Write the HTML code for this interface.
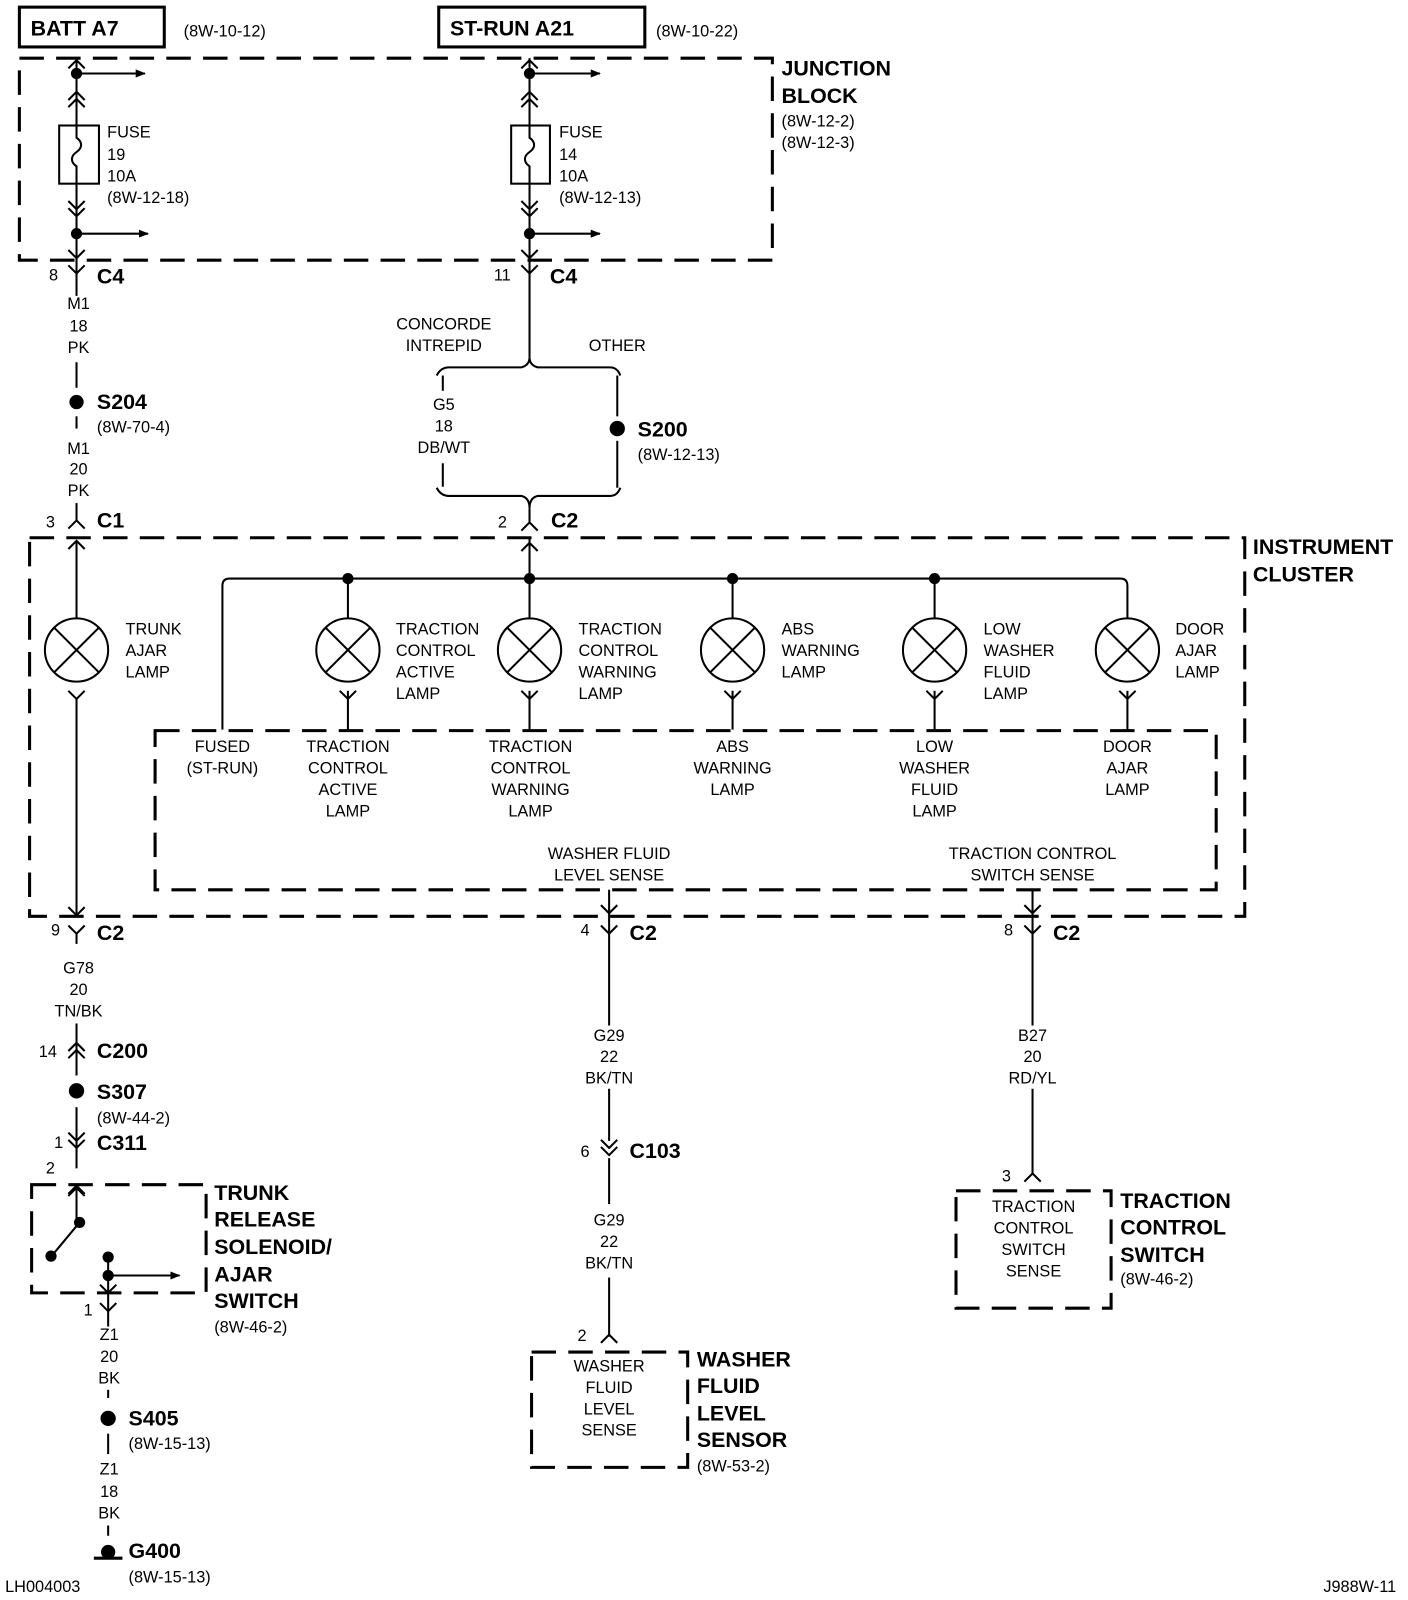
<!DOCTYPE html>
<html><head><meta charset="utf-8"><style>
html,body{margin:0;padding:0;background:#fff}
svg{display:block}
text{font-family:"Liberation Sans",sans-serif;font-size:16px;fill:#000}
.b{font-weight:bold;font-size:21px}
.c{text-anchor:middle}
</style></head><body>
<svg width="1408" height="1600" viewBox="0 0 1380 1568" preserveAspectRatio="none" xmlns="http://www.w3.org/2000/svg" stroke="#000" fill="none" stroke-width="2">
<defs>
<marker id="ar" markerWidth="10" markerHeight="8" refX="9" refY="4" orient="auto" markerUnits="userSpaceOnUse"><path d="M0,0 L10,4 L0,8 z" fill="#000" stroke="none"/></marker>
<g id="Y"><path d="M-8,-8 L0,0 L8,-8"/></g>
<g id="A"><path d="M-8,8 L0,0 L8,8"/></g>
<g id="lamp"><circle r="31"/><path d="M-22,-22 L22,22 M22,-22 L-22,22"/></g>
</defs>

<rect x="19" y="7" width="142" height="39" stroke-width="3"/>
<rect x="430" y="7" width="202" height="39" stroke-width="3"/>
<g stroke="none">
<text x="30" y="35" class="b">BATT A7</text>
<text x="180" y="36">(8W-10-12)</text>
<text x="441" y="35" class="b">ST-RUN A21</text>
<text x="643" y="36">(8W-10-22)</text>
<text x="766" y="74" class="b">JUNCTION</text>
<text x="766" y="101" class="b">BLOCK</text>
<text x="766" y="124">(8W-12-2)</text>
<text x="766" y="145">(8W-12-3)</text>
</g>
<rect x="19" y="57" width="738" height="198" stroke-dasharray="24,12" stroke-width="3"/>

<line x1="75" y1="57" x2="75" y2="290"/>
<use href="#A" x="75" y="59"/>
<circle cx="75" cy="72" r="4.5" fill="#000"/><line x1="75" y1="72" x2="142" y2="72" marker-end="url(#ar)"/>
<use href="#A" x="75" y="90"/><use href="#A" x="75" y="97"/>
<rect x="58" y="123" width="39" height="57" fill="#fff"/>
<path d="M75,123 v12 c6,4 6,10 0,14 c-6,4 -6,10 0,14 v17"/>
<use href="#Y" x="75" y="205"/><use href="#Y" x="75" y="212"/>
<circle cx="75" cy="229" r="4.5" fill="#000"/><line x1="75" y1="229" x2="145" y2="229" marker-end="url(#ar)"/>
<use href="#Y" x="75" y="253"/>
<use href="#Y" x="75" y="268"/>
<g stroke="none">
<text x="105" y="135">FUSE</text><text x="105" y="157">19</text><text x="105" y="178">10A</text><text x="105" y="199">(8W-12-18)</text>
<text x="48" y="275" font-size="14">8</text><text x="95" y="278" class="b">C4</text>
<text x="77" y="303" class="c">M1</text><text x="77" y="325" class="c">18</text><text x="77" y="346" class="c">PK</text>
</g>
<line x1="75" y1="355" x2="75" y2="380"/>
<circle cx="75" cy="394" r="6" fill="#000"/>
<line x1="75" y1="408" x2="75" y2="420"/>
<g stroke="none">
<text x="95" y="401" class="b">S204</text><text x="95" y="424">(8W-70-4)</text>
<text x="77" y="445" class="c">M1</text><text x="77" y="465" class="c">20</text><text x="77" y="486" class="c">PK</text>
<text x="45" y="517" font-size="14">3</text><text x="95" y="517" class="b">C1</text>
</g>
<line x1="75" y1="493" x2="75" y2="510"/>
<use href="#A" x="75" y="510"/>

<line x1="519" y1="57" x2="519" y2="350"/>
<use href="#A" x="519" y="59"/>
<circle cx="519" cy="72" r="4.5" fill="#000"/><line x1="519" y1="72" x2="588" y2="72" marker-end="url(#ar)"/>
<use href="#A" x="519" y="90"/><use href="#A" x="519" y="97"/>
<rect x="501" y="123" width="38" height="57" fill="#fff"/>
<path d="M519,123 v12 c6,4 6,10 0,14 c-6,4 -6,10 0,14 v17"/>
<use href="#Y" x="519" y="205"/><use href="#Y" x="519" y="212"/>
<circle cx="519" cy="229" r="4.5" fill="#000"/><line x1="519" y1="229" x2="588" y2="229" marker-end="url(#ar)"/>
<use href="#Y" x="519" y="253"/>
<use href="#Y" x="519" y="268"/>
<g stroke="none">
<text x="548" y="135">FUSE</text><text x="548" y="157">14</text><text x="548" y="178">10A</text><text x="548" y="199">(8W-12-13)</text>
<text x="484" y="275" font-size="14">11</text><text x="539" y="278" class="b">C4</text>
<text x="435" y="323" class="c">CONCORDE</text><text x="435" y="344" class="c">INTREPID</text>
<text x="605" y="344" class="c">OTHER</text>
<text x="435" y="402" class="c">G5</text><text x="435" y="423" class="c">18</text><text x="435" y="444" class="c">DB/WT</text>
<text x="625" y="428" class="b">S200</text><text x="625" y="451">(8W-12-13)</text>
<text x="488" y="517" font-size="14">2</text><text x="540" y="517" class="b">C2</text>
</g>
<path d="M428,368 Q432,360 440,360 L511,360 Q519,358 519,350 Q519,358 527,360 L598,360 Q605,360 608,368"/>
<line x1="434" y1="368" x2="434" y2="383"/>
<line x1="434" y1="454" x2="434" y2="477"/>
<line x1="605" y1="368" x2="605" y2="408"/>
<line x1="605" y1="432" x2="605" y2="478"/>
<circle cx="605" cy="420" r="6.5" fill="#000"/>
<path d="M428,478 Q432,486 440,486 L511,486 Q519,488 519,498 Q519,488 527,486 L598,486 Q605,486 608,478"/>
<line x1="519" y1="498" x2="519" y2="512"/>
<use href="#A" x="519" y="512"/>

<rect x="29" y="527" width="1191" height="371" stroke-dasharray="24,12" stroke-width="3"/>
<g stroke="none"><text x="1228" y="543" class="b">INSTRUMENT</text><text x="1228" y="570" class="b">CLUSTER</text></g>
<use href="#A" x="75" y="530"/>
<line x1="75" y1="530" x2="75" y2="606"/>
<use href="#lamp" x="75" y="637"/>
<use href="#Y" x="75" y="685"/>
<line x1="75" y1="685" x2="75" y2="898"/>
<use href="#Y" x="75" y="897"/>
<use href="#A" x="519" y="532"/>
<line x1="519" y1="527" x2="519" y2="606"/>
<path d="M218,715 L218,574 Q218,567 225,567 L1098,567 Q1105,567 1105,574 L1105,606"/>
<g fill="#000"><circle cx="341" cy="567" r="4.5"/><circle cx="519" cy="567" r="4.5"/><circle cx="718" cy="567" r="4.5"/><circle cx="916" cy="567" r="4.5"/></g>
<line x1="341" y1="567" x2="341" y2="606"/><line x1="718" y1="567" x2="718" y2="606"/><line x1="916" y1="567" x2="916" y2="606"/>
<use href="#lamp" x="341" y="637"/><use href="#lamp" x="519" y="637"/><use href="#lamp" x="718" y="637"/><use href="#lamp" x="916" y="637"/><use href="#lamp" x="1105" y="637"/>
<g>
<line x1="341" y1="677" x2="341" y2="715"/><use href="#Y" x="341" y="685"/>
<line x1="519" y1="677" x2="519" y2="715"/><use href="#Y" x="519" y="685"/>
<line x1="718" y1="677" x2="718" y2="715"/><use href="#Y" x="718" y="685"/>
<line x1="916" y1="677" x2="916" y2="715"/><use href="#Y" x="916" y="685"/>
<line x1="1105" y1="677" x2="1105" y2="715"/><use href="#Y" x="1105" y="685"/>
</g>
<rect x="152" y="716" width="1040" height="156" stroke-dasharray="24,12" stroke-width="3"/>
<g stroke="none">
<text x="123" y="622">TRUNK</text><text x="123" y="643">AJAR</text><text x="123" y="664">LAMP</text>
<text x="388" y="622">TRACTION</text><text x="388" y="643">CONTROL</text><text x="388" y="664">ACTIVE</text><text x="388" y="685">LAMP</text>
<text x="567" y="622">TRACTION</text><text x="567" y="643">CONTROL</text><text x="567" y="664">WARNING</text><text x="567" y="685">LAMP</text>
<text x="766" y="622">ABS</text><text x="766" y="643">WARNING</text><text x="766" y="664">LAMP</text>
<text x="964" y="622">LOW</text><text x="964" y="643">WASHER</text><text x="964" y="664">FLUID</text><text x="964" y="685">LAMP</text>
<text x="1152" y="622">DOOR</text><text x="1152" y="643">AJAR</text><text x="1152" y="664">LAMP</text>
<text x="218" y="737" class="c">FUSED</text><text x="218" y="758" class="c">(ST-RUN)</text>
<text x="341" y="737" class="c">TRACTION</text><text x="341" y="758" class="c">CONTROL</text><text x="341" y="779" class="c">ACTIVE</text><text x="341" y="800" class="c">LAMP</text>
<text x="520" y="737" class="c">TRACTION</text><text x="520" y="758" class="c">CONTROL</text><text x="520" y="779" class="c">WARNING</text><text x="520" y="800" class="c">LAMP</text>
<text x="718" y="737" class="c">ABS</text><text x="718" y="758" class="c">WARNING</text><text x="718" y="779" class="c">LAMP</text>
<text x="916" y="737" class="c">LOW</text><text x="916" y="758" class="c">WASHER</text><text x="916" y="779" class="c">FLUID</text><text x="916" y="800" class="c">LAMP</text>
<text x="1105" y="737" class="c">DOOR</text><text x="1105" y="758" class="c">AJAR</text><text x="1105" y="779" class="c">LAMP</text>
<text x="597" y="842" class="c">WASHER FLUID</text><text x="597" y="863" class="c">LEVEL SENSE</text>
<text x="1012" y="842" class="c">TRACTION CONTROL</text><text x="1012" y="863" class="c">SWITCH SENSE</text>
</g>
<line x1="597" y1="872" x2="597" y2="1118"/><use href="#Y" x="597" y="895"/>
<line x1="1012" y1="872" x2="1012" y2="1150"/><use href="#Y" x="1012" y="895"/>

<use href="#Y" x="75" y="915"/><use href="#Y" x="597" y="915"/><use href="#Y" x="1012" y="915"/>
<line x1="75" y1="915" x2="75" y2="925"/>
<g stroke="none">
<text x="50" y="917" font-size="14">9</text><text x="95" y="921" class="b">C2</text>
<text x="569" y="917" font-size="14">4</text><text x="617" y="921" class="b">C2</text>
<text x="984" y="917" font-size="14">8</text><text x="1032" y="921" class="b">C2</text>
<text x="77" y="954" class="c">G78</text><text x="77" y="975" class="c">20</text><text x="77" y="996" class="c">TN/BK</text>
</g>
<rect x="575" y="1005" width="45" height="62" fill="#fff" stroke="none"/>
<rect x="985" y="1005" width="55" height="62" fill="#fff" stroke="none"/>
<g stroke="none">
<text x="597" y="1020" class="c">G29</text><text x="597" y="1041" class="c">22</text><text x="597" y="1062" class="c">BK/TN</text>
<text x="1012" y="1020" class="c">B27</text><text x="1012" y="1041" class="c">20</text><text x="1012" y="1062" class="c">RD/YL</text>
</g>

<line x1="75" y1="1003" x2="75" y2="1054"/>
<use href="#A" x="75" y="1022"/><use href="#A" x="75" y="1029"/>
<circle cx="75" cy="1069" r="6.5" fill="#000"/>
<line x1="75" y1="1085" x2="75" y2="1145"/>
<use href="#Y" x="75" y="1118"/><use href="#Y" x="75" y="1125"/>
<use href="#A" x="75" y="1164"/>
<line x1="75" y1="1160" x2="75" y2="1198"/>
<g stroke="none">
<text x="38" y="1036" font-size="14">14</text><text x="95" y="1037" class="b">C200</text>
<text x="95" y="1077" class="b">S307</text><text x="95" y="1101">(8W-44-2)</text>
<text x="53" y="1125" font-size="14">1</text><text x="95" y="1127" class="b">C311</text>
<text x="45" y="1150" font-size="14">2</text>
<text x="210" y="1176" class="b">TRUNK</text><text x="210" y="1202" class="b">RELEASE</text><text x="210" y="1229" class="b">SOLENOID/</text><text x="210" y="1256" class="b">AJAR</text><text x="210" y="1282" class="b">SWITCH</text><text x="210" y="1306">(8W-46-2)</text>
</g>
<rect x="31" y="1161" width="171" height="106" stroke-dasharray="24,12" stroke-width="3"/>
<use href="#A" x="75" y="1162"/>
<circle cx="78" cy="1198" r="4.5" fill="#000"/>
<line x1="78" y1="1198" x2="53" y2="1228"/>
<circle cx="50" cy="1231" r="4.5" fill="#000"/>
<circle cx="106" cy="1232" r="4.5" fill="#000"/>
<line x1="106" y1="1232" x2="106" y2="1300"/>
<circle cx="106" cy="1250" r="4.5" fill="#000"/>
<line x1="106" y1="1250" x2="176" y2="1250" marker-end="url(#ar)"/>
<use href="#Y" x="106" y="1267"/>
<use href="#Y" x="106" y="1285"/>
<g stroke="none">
<text x="82" y="1289" font-size="14">1</text>
<text x="107" y="1313" class="c">Z1</text><text x="107" y="1335" class="c">20</text><text x="107" y="1356" class="c">BK</text>
<text x="126" y="1397" class="b">S405</text><text x="126" y="1420">(8W-15-13)</text>
<text x="107" y="1445" class="c">Z1</text><text x="107" y="1467" class="c">18</text><text x="107" y="1488" class="c">BK</text>
<text x="126" y="1527" class="b">G400</text><text x="126" y="1551">(8W-15-13)</text>
<text x="5" y="1560" font-size="15">LH004003</text>
<text x="1297" y="1560" font-size="15">J988W-11</text>
</g>
<line x1="106" y1="1362" x2="106" y2="1370"/>
<circle cx="106" cy="1390" r="6.5" fill="#000"/>
<line x1="106" y1="1405" x2="106" y2="1425"/>
<line x1="106" y1="1495" x2="106" y2="1505"/>
<circle cx="106" cy="1521" r="6" fill="#000"/>
<line x1="92" y1="1527" x2="120" y2="1527" stroke-width="3"/>

<use href="#Y" x="597" y="1125"/><use href="#Y" x="597" y="1132"/>
<line x1="597" y1="1135" x2="597" y2="1180"/>
<g stroke="none">
<text x="569" y="1134" font-size="14">6</text><text x="617" y="1135" class="b">C103</text>
<text x="597" y="1201" class="c">G29</text><text x="597" y="1222" class="c">22</text><text x="597" y="1243" class="c">BK/TN</text>
<text x="566" y="1314" font-size="14">2</text>
<text x="597" y="1344" class="c">WASHER</text><text x="597" y="1365" class="c">FLUID</text><text x="597" y="1386" class="c">LEVEL</text><text x="597" y="1407" class="c">SENSE</text>
<text x="683" y="1339" class="b">WASHER</text><text x="683" y="1365" class="b">FLUID</text><text x="683" y="1392" class="b">LEVEL</text><text x="683" y="1418" class="b">SENSOR</text><text x="683" y="1442">(8W-53-2)</text>
</g>
<line x1="597" y1="1252" x2="597" y2="1310"/>
<use href="#A" x="597" y="1308"/>
<rect x="521" y="1325" width="153" height="113" stroke-dasharray="24,12" stroke-width="3"/>

<use href="#A" x="1012" y="1150"/>
<g stroke="none">
<text x="982" y="1158" font-size="14">3</text>
<text x="1013" y="1188" class="c">TRACTION</text><text x="1013" y="1209" class="c">CONTROL</text><text x="1013" y="1230" class="c">SWITCH</text><text x="1013" y="1251" class="c">SENSE</text>
<text x="1098" y="1184" class="b">TRACTION</text><text x="1098" y="1210" class="b">CONTROL</text><text x="1098" y="1237" class="b">SWITCH</text><text x="1098" y="1259">(8W-46-2)</text>
</g>
<rect x="937" y="1167" width="152" height="115" stroke-dasharray="24,12" stroke-width="3"/>
</svg>
</body></html>
